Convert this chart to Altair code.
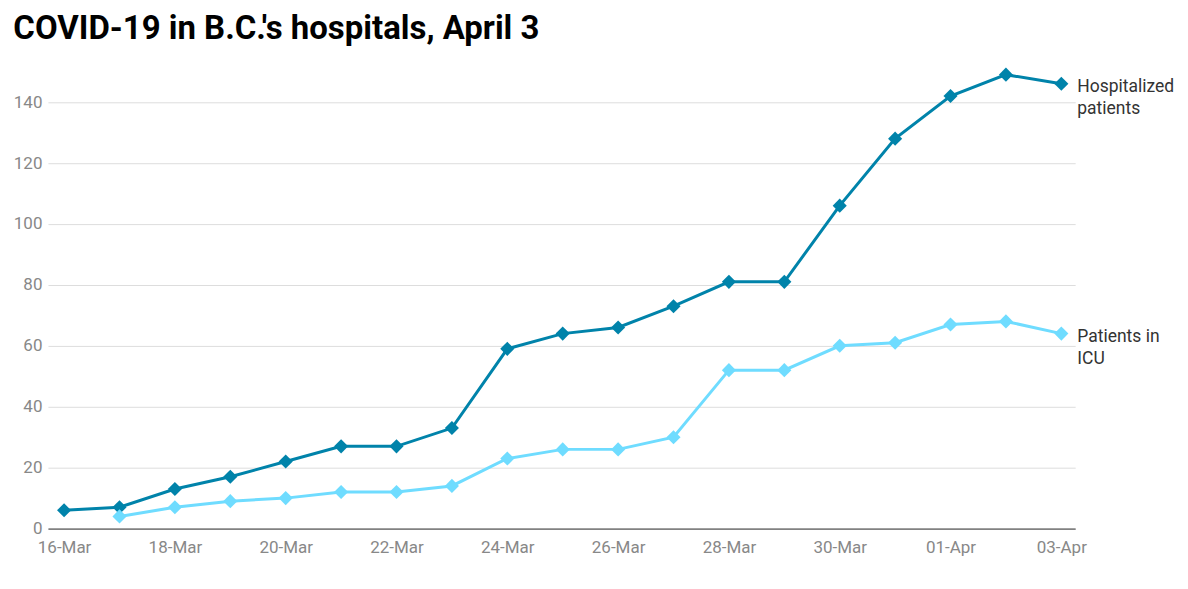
import altair as alt
import pandas as pd

# Values
dates = [
    "2020-03-16", "2020-03-17", "2020-03-18", "2020-03-19", "2020-03-20",
    "2020-03-21", "2020-03-22", "2020-03-23", "2020-03-24", "2020-03-25",
    "2020-03-26", "2020-03-27", "2020-03-28", "2020-03-29", "2020-03-30",
    "2020-03-31", "2020-04-01", "2020-04-02", "2020-04-03",
]
hospitalized = [6, 7, 13, 17, 22, 27, 27, 33, 59, 64, 66, 73, 81, 81, 106, 128, 142, 149, 146]
icu = [None, 4, 7, 9, 10, 12, 12, 14, 23, 26, 26, 30, 52, 52, 60, 61, 67, 68, 64]

series_names = ["Hospitalized patients", "Patients in ICU"]
series_colors = ["#0083aa", "#6fdcff"]
label_lines = {
    "Hospitalized patients": ["Hospitalized", "patients"],
    "Patients in ICU": ["Patients in", "ICU"],
}
tick_dates = [
    "2020-03-16", "2020-03-18", "2020-03-20", "2020-03-22", "2020-03-24",
    "2020-03-26", "2020-03-28", "2020-03-30", "2020-04-01", "2020-04-03",
]

rows = []
for d, h, i in zip(dates, hospitalized, icu):
    rows.append({"date": d, "series": series_names[0], "value": h})
    if i is not None:
        rows.append({"date": d, "series": series_names[1], "value": i})
df = pd.DataFrame(rows)

last = df.groupby("series").tail(1).copy()
last["label"] = last["series"].map(label_lines)


def dt(s, hours=0):
    y, m, d = (int(p) for p in s.split("-"))
    return alt.DateTime(year=y, month=m, date=d, hours=hours, utc=True)


x_scale = alt.Scale(type="utc", domain=[dt("2020-03-15", 17), dt("2020-04-03", 6)])
y_scale = alt.Scale(domain=[0, 155], nice=False)
color_scale = alt.Scale(domain=series_names, range=series_colors)

x_enc = alt.X(
    "date:T",
    scale=x_scale,
    title=None,
    axis=alt.Axis(
        values=[dt(t) for t in tick_dates],
        labelExpr="utcFormat(datum.value, '%d-%b')",
        grid=False,
        ticks=False,
        domainColor="#333333",
        labelColor="#888888",
        labelFontSize=17,
        labelFont="Roboto",
        labelPadding=11,
    ),
)
y_enc = alt.Y(
    "value:Q",
    scale=y_scale,
    title=None,
    axis=alt.Axis(
        values=[0, 20, 40, 60, 80, 100, 120, 140],
        domain=False,
        ticks=False,
        gridColor="#dddddd",
        labelColor="#888888",
        labelFontSize=17,
        labelFont="Roboto",
        labelPadding=6,
    ),
)
color_enc = alt.Color("series:N", scale=color_scale, legend=None)

base = alt.Chart(df)

lines = base.mark_line(strokeWidth=3).encode(x=x_enc, y=y_enc, color=color_enc)
points = base.mark_point(shape="diamond", filled=True, size=200, opacity=1).encode(
    x=x_enc, y=y_enc, color=color_enc
)
labels = (
    alt.Chart(last)
    .mark_text(
        align="left",
        baseline="top",
        dx=16,
        dy=-6,
        fontSize=17.5,
        font="Roboto",
        color="#333333",
        lineHeight=22,
    )
    .encode(x=x_enc, y=y_enc, text="label")
)

chart = (
    alt.layer(lines, points, labels)
    .properties(
        width=1029,
        height=473,
        title=alt.TitleParams(
            "COVID-19 in B.C.'s hospitals, April 3",
            anchor="start",
            frame="bounds",
            font="Roboto",
            fontSize=33,
            fontWeight="bold",
            color="#000000",
            offset=10,
        ),
    )
    .configure_view(stroke=None)
)

chart.save("out.html", embed_options={"renderer": "svg", "actions": False})
